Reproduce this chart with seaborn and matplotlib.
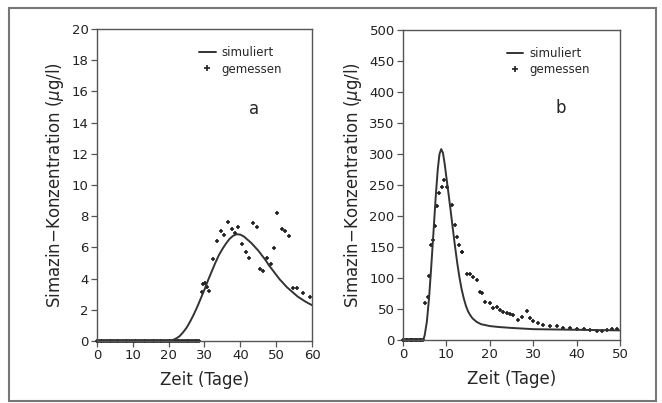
import numpy as np
import pandas as pd
import matplotlib
matplotlib.use("Agg")
import matplotlib.pyplot as plt
from matplotlib.lines import Line2D
from matplotlib.patches import Rectangle
import seaborn as sns

# ── Data: panel a ─────────────────────────────────────────────────────────
a_sim_t = [0, 20, 21, 22, 23, 24, 25, 26, 27, 28, 29, 30, 31, 32, 33, 34,
           35, 36, 37, 38, 39, 40, 41, 42, 43, 44, 45, 46, 47, 48, 49, 50,
           51, 52, 53, 54, 55, 56, 57, 58, 59, 60]
a_sim_c = [0, 0, 0.05, 0.15, 0.3, 0.55, 0.85, 1.25, 1.7, 2.2, 2.75, 3.3,
           3.9, 4.45, 5.0, 5.5, 5.9, 6.25, 6.55, 6.75, 6.85, 6.82, 6.7, 6.5,
           6.3, 6.05, 5.8, 5.5, 5.2, 4.85, 4.55, 4.25, 3.95, 3.7, 3.45,
           3.25, 3.05, 2.85, 2.7, 2.55, 2.42, 2.3]

a_mes_t = [0, 0.5, 1, 1.5, 2, 2.5, 3, 3.5, 4, 4.5, 5, 5.5, 6, 6.5, 7, 7.5,
           8, 8.5, 9, 9.5, 10, 10.5, 11, 11.5, 12, 12.5, 13, 13.5, 14, 14.5,
           15, 15.5, 16, 16.5, 17, 17.5, 18, 18.5, 19, 19.5, 20, 20.5, 21,
           21.5, 22, 22.5, 23, 23.5, 24, 24.5, 25, 25.5, 26, 26.5, 27, 27.5,
           28, 28.5,
           29.2, 29.7, 30.1, 30.6, 31.3, 32.3, 33.4, 34.5, 35.5, 36.5, 37.6,
           38.5, 39.4, 40.6, 41.5, 42.5, 43.6, 44.6, 45.5, 46.4, 47.5, 48.5,
           49.5, 50.3, 51.5, 52.6, 53.7, 54.8, 55.7, 57.6, 59.4]
a_mes_c = [0] * 58 + \
          [3.16, 3.65, 3.74, 3.44, 3.2, 5.26, 6.43, 7.03, 6.8, 7.6, 7.16,
           6.94, 7.28, 6.19, 5.7, 5.34, 7.58, 7.33, 4.64, 4.51, 5.3, 4.94,
           5.98, 8.22, 7.16, 7.07, 6.73, 3.4, 3.4, 3.08, 2.8]

# ── Data: panel b ─────────────────────────────────────────────────────────
b_sim_t = [0, 4.5, 4.8, 5, 5.5, 6, 6.5, 7, 7.5, 8, 8.4, 8.8, 9.2, 9.6, 10,
           10.5, 11, 11.5, 12, 12.5, 13, 13.5, 14, 14.5, 15, 15.5, 16, 17,
           18, 20, 22, 25, 30, 35, 40, 45, 50]
b_sim_c = [0, 0, 3, 8, 30, 68, 118, 172, 228, 275, 300, 308, 302, 284, 262,
           235, 207, 178, 150, 124, 101, 82, 67, 55, 46, 40, 35, 29, 25.5,
           22.5, 21, 19.5, 17.5, 17, 16.5, 16, 15.5]

b_mes_t = [0, 0.3, 0.6, 0.9, 1.2, 1.5, 1.8, 2.1, 2.4, 2.7, 3, 3.3, 3.6,
           3.9, 4.2, 4.5,
           5.1, 5.7, 6.0, 6.4, 6.8, 7.4, 7.9, 8.4, 8.9, 9.5, 10.1, 11.2, 12.0,
           12.5, 12.9, 13.5, 13.7, 14.7, 15.4, 16.2, 17.0, 17.7, 18.3, 19.0,
           20.0, 20.8, 21.6, 22.3, 23.1, 23.9, 24.6, 25.4, 26.6, 27.3, 28.5,
           29.3, 30.0, 31.2, 32.3, 33.8, 35.4, 36.9, 38.5, 40.0, 41.6, 43.1,
           44.6, 45.8, 47.0, 48.1, 49.3]
b_mes_c = [0] * 16 + \
          [59, 70, 104, 153, 161, 184, 216, 237, 247, 258, 247, 218, 185,
           167, 153, 142, 142, 106, 106, 102, 97, 78, 76, 62, 59, 51, 54, 48,
           45, 43, 42, 40, 33, 37, 47, 35, 31, 27, 24, 23, 22, 20, 19.5, 18,
           17, 16, 15, 14.5, 16, 17, 17]

# ── Style ─────────────────────────────────────────────────────────────────
sns.set_theme(style="ticks")
plt.rcParams['font.family'] = ['DejaVu Sans']
plt.rcParams['axes.edgecolor'] = '#555555'
plt.rcParams['xtick.color'] = '#555555'
plt.rcParams['ytick.color'] = '#555555'
plt.rcParams['xtick.labelcolor'] = '#222222'
plt.rcParams['ytick.labelcolor'] = '#222222'

INK = '#333333'

fig = plt.figure(figsize=(6.62, 4.03), dpi=100)
fig.patch.set_facecolor('white')
ax_a = fig.add_axes([0.1465, 0.1538, 0.3248, 0.774])
ax_b = fig.add_axes([0.6088, 0.1563, 0.3278, 0.769])

panels = [
    (ax_a, a_sim_t, a_sim_c, a_mes_t, a_mes_c, 60, 20, 2, 'a', (43.8, 14.9)),
    (ax_b, b_sim_t, b_sim_c, b_mes_t, b_mes_c, 50, 500, 50, 'b', (36.4, 374)),
]

for ax, st, sc, mt, mc, xmax, ymax, ystep, letter, lpos in panels:
    sim = pd.DataFrame({'t': st, 'c': sc})
    mes = pd.DataFrame({'t': mt, 'c': mc})
    sns.lineplot(data=sim, x='t', y='c', ax=ax, color=INK, lw=1.4)
    sns.scatterplot(data=mes, x='t', y='c', ax=ax, marker='+', s=10,
                    color='#222222', linewidth=1.2, clip_on=False)
    ax.set_xlim(0, xmax)
    ax.set_ylim(0, ymax)
    ax.set_xticks(np.arange(0, xmax + 1, 10))
    ax.set_yticks(np.arange(0, ymax + ystep / 2, ystep))
    ax.tick_params(direction='out', length=4, width=0.9, labelsize=9.5, pad=2)
    for sp in ax.spines.values():
        sp.set_visible(True)
        sp.set_linewidth(1.0)
    ax.set_xlabel('Zeit (Tage)', fontsize=12, labelpad=6)
    ax.set_ylabel(r'Simazin$-$Konzentration ($\mu$g/l)', fontsize=12,
                  labelpad=4)
    ax.text(lpos[0], lpos[1], letter, fontsize=12, ha='center', va='center')
    handles = [Line2D([], [], color=INK, lw=1.4),
               Line2D([], [], color='#222222', marker='+', ls='none',
                      markersize=4, markeredgewidth=1.2)]
    ax.legend(handles, ['simuliert', 'gemessen'], loc='upper right',
              bbox_to_anchor=(0.91, 0.98), frameon=False, fontsize=8.5,
              handlelength=1.4, handletextpad=0.5, labelspacing=0.3)

# outer frame around the whole figure
fig.add_artist(Rectangle((0.0136, 0.005), 0.977, 0.975,
                         transform=fig.transFigure, fill=False,
                         edgecolor='#777777', lw=1.5))

plt.savefig('out.png', dpi=100)
plt.close()
